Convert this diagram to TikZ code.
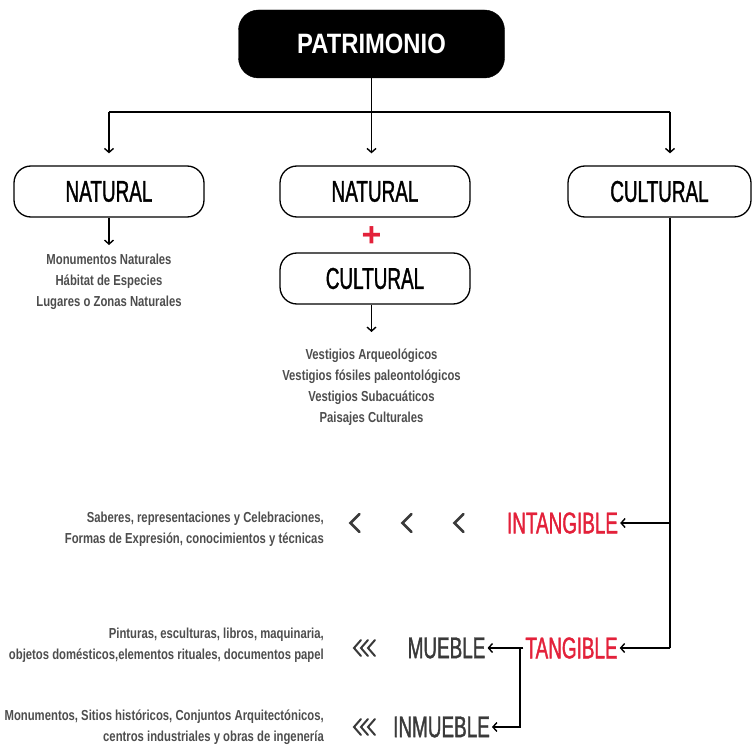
\documentclass[tikz,border=0pt]{standalone}
\usepackage{fontspec}
\setmainfont{Liberation Sans}
\newfontfamily\headfont[FakeStretch=0.63,FakeBold=1.2]{Liberation Sans}
\newfontfamily\titlefont[FakeStretch=0.85]{Liberation Sans}
\newfontfamily\smallfont[FakeStretch=0.78]{Liberation Sans}
\usetikzlibrary{arrows.meta}
\definecolor{hred}{HTML}{E3213A}
\definecolor{tgray}{HTML}{4D4D4D}
\definecolor{dgray}{HTML}{3A3A3A}
\tikzset{
  line/.style={line width=1.4pt, draw=black},
  arr/.style={line, -{Straight Barb[length=4pt,width=9pt]}},
  titlebox/.style={fill=black, draw=black, rounded corners=20pt, minimum width=266pt, minimum height=68pt, text=white, font=\titlefont\bfseries\fontsize{28}{28}\selectfont},
  catbox/.style={fill=white, draw=black, line width=1.3pt, rounded corners=17pt, minimum height=51pt, font=\headfont\fontsize{30}{30}\selectfont},
  head/.style={font=\headfont\fontsize{30}{30}\selectfont, inner sep=2pt},
  small/.style={font=\smallfont\bfseries\fontsize{14.5}{21}\selectfont, text=tgray, inner sep=0pt},
  chev/.style={line width=2.5pt, draw=dgray, line cap=round, line join=miter},
  chevs/.style={line width=2pt, draw=dgray, line cap=round, line join=miter}
}
\begin{document}
\begin{tikzpicture}[x=1pt,y=-1pt]
\useasboundingbox (0,0) rectangle (752,746);
% top
\node[titlebox] (pat) at (371.5,44) {PATRIMONIO};
\node[catbox, minimum width=190pt] (nat) at (109,191.5) {NATURAL};
\node[catbox, minimum width=190pt] (natc) at (375,191.5) {NATURAL};
\node[catbox, minimum width=183pt] (cul) at (659.5,191.5) {CULTURAL};
\coordinate (hl) at (109,112);
\coordinate (hm) at (371.5,112);
\coordinate (hr) at (670,112);
\draw[line] (pat.south) -- (hm);
\draw[line] (hl) -- (hr);
\draw[arr, shorten >=12pt] (hl) -- (nat.north);
\draw[arr, shorten >=12pt] (hm) -- (hm |- natc.north);
\draw[arr, shorten >=12pt] (hr) -- (hr |- cul.north);
% natural list
\node[small, align=center, anchor=north] (natlist) at (109,254) {Monumentos Naturales\\Hábitat de Especies\\Lugares o Zonas Naturales};
\draw[arr, shorten >=9pt] (nat.south) -- (natlist.north);
% plus
\node[text=hred, font=\bfseries\fontsize{34}{34}\selectfont, inner sep=0pt] (plus) at (371.5,237) {+};
\node[catbox, minimum width=190pt] (cul2) at (375,278.5) {CULTURAL};
\node[small, align=center, anchor=north] (mixlist) at (371.5,349) {Vestigios Arqueológicos\\Vestigios fósiles paleontológicos\\Vestigios Subacuáticos\\Paisajes Culturales};
\draw[arr, shorten >=17pt] (cul2.south -| hm) -- (mixlist.north);
% cultural branches
\coordinate (ci) at (670,523);
\coordinate (ct) at (670,648);
\node[head, text=hred] (intang) at (562.5,523) {INTANGIBLE};
\node[head, text=hred] (tang) at (571.5,648) {TANGIBLE};
\draw[line] (cul.south -| ci) -- (ct);
\draw[arr] (ci) -- (intang.east);
\draw[arr] (ct) -- (tang.east);
\node[head, text=dgray] (mueble) at (446.5,648) {MUEBLE};
\node[head, text=dgray] (inmueble) at (441.5,727) {INMUEBLE};
\coordinate (tj) at (520,648);
\coordinate (tb) at (520,727);
\draw[line] (tang.west) -- (tj);
\draw[arr] (tj) -- (mueble.east);
\draw[arr] (tj) -- (tb) -- (inmueble.east);
% intangible chevrons
\foreach \cx in {355,407,459}{
  \draw[chev] (\cx+4.5,514) -- (\cx-4.5,523) -- (\cx+4.5,532);
}
% triple chevrons
\foreach \cy in {648,727}{
  \foreach \dx in {0,7,14}{
    \draw[chevs] (361+\dx,640+\cy-648) -- (354+\dx,\cy) -- (361+\dx,656+\cy-648);
  }
}
% description texts
\node[small, align=right, anchor=east] (intxt) at (324,529) {Saberes, representaciones y Celebraciones,\\Formas de Expresión, conocimientos y técnicas};
\node[small, align=right, anchor=east] (mutxt) at (324,645) {Pinturas, esculturas, libros, maquinaria,\\objetos domésticos,elementos rituales, documentos papel};
\node[small, align=right, anchor=east] (intxt2) at (324,727) {Monumentos, Sitios históricos, Conjuntos Arquitectónicos,\\centros industriales y obras de ingenería};
\end{tikzpicture}
\end{document}
